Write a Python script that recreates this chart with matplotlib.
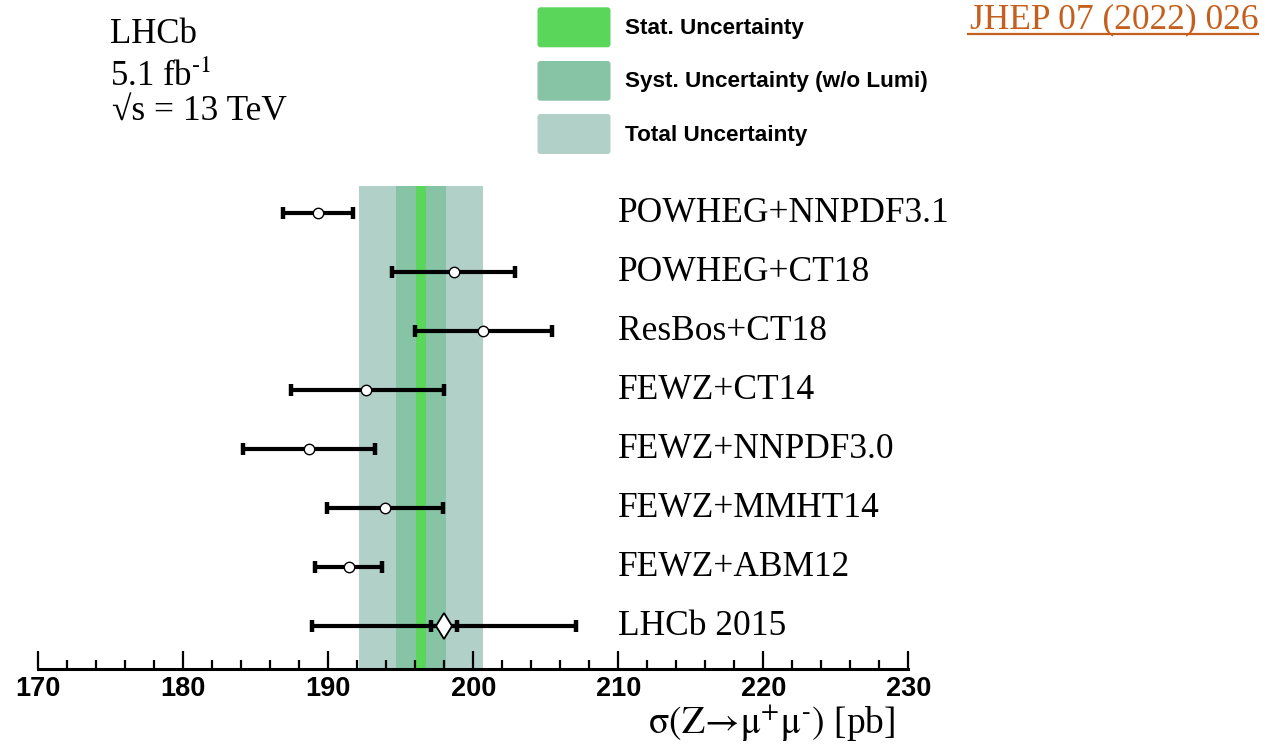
import matplotlib
matplotlib.use("Agg")
import matplotlib.pyplot as plt
from matplotlib.patches import FancyBboxPatch
from matplotlib.lines import Line2D
from matplotlib.transforms import IdentityTransform
from matplotlib.ticker import MultipleLocator

plt.rcParams["mathtext.fontset"] = "stix"
plt.rcParams["mathtext.default"] = "rm"

# ---------------- data ----------------
labels = ["POWHEG+NNPDF3.1", "POWHEG+CT18", "ResBos+CT18", "FEWZ+CT14",
          "FEWZ+NNPDF3.0", "FEWZ+MMHT14", "FEWZ+ABM12"]
central = [189.3, 198.7, 200.7, 192.6, 188.7, 193.9, 191.4]
low = [186.9, 194.4, 196.0, 187.4, 184.1, 189.9, 189.1]
high = [191.7, 202.9, 205.4, 198.0, 193.2, 197.9, 193.7]

lhcb15_label = "LHCb 2015"
lhcb15_central = 198.0
lhcb15_stat = 0.9
lhcb15_total = 9.1

meas_central = 196.4
meas_stat = 0.33
meas_syst = 1.7
meas_total = 4.3

xticks_major = [170, 180, 190, 200, 210, 220, 230]
legend_labels = ["Stat. Uncertainty", "Syst. Uncertainty (w/o Lumi)", "Total Uncertainty"]

c_stat = "#5ad65a"
c_syst = "#87c3a5"
c_total = "#b1d0c7"

SERIF = ["Liberation Serif", "DejaVu Serif"]
SANS = ["Liberation Sans", "DejaVu Sans"]
HY = "\u2010"

W, H = 1268, 747
fig = plt.figure(figsize=(W / 100, H / 100), dpi=100)

def fx(px):
    return px / W

def fy(py):
    return 1 - py / H

ax_left, ax_right = 38.3, 908.3
ax_top, ax_bot = 186.0, 668.7
ax = fig.add_axes([fx(ax_left), fy(ax_bot), (ax_right - ax_left) / W, (ax_bot - ax_top) / H])

row0, drow = 213.3, 59.0
ax.set_ylim((ax_bot - row0) / drow, (ax_top - row0) / drow)
ax.set_xlim(xticks_major[0], xticks_major[-1])

# bands
ax.axvspan(meas_central - meas_total, meas_central + meas_total, color=c_total, lw=0, zorder=1)
ax.axvspan(meas_central - meas_syst, meas_central + meas_syst, color=c_syst, lw=0, zorder=1.1)
ax.axvspan(meas_central - meas_stat, meas_central + meas_stat, color=c_stat, lw=0, zorder=1.2)

eb_kw = dict(fmt="none", ecolor="black", elinewidth=3, capsize=4, capthick=3.2, zorder=3)

ys = list(range(len(labels)))
xerr = [[c - l for c, l in zip(central, low)], [h - c for c, h in zip(central, high)]]
ax.errorbar(central, ys, xerr=xerr, **eb_kw)
ax.plot(central, ys, "o", mfc="white", mec="black", mew=1.0, ms=7.5, zorder=5)

y15 = len(labels)
ax.errorbar([lhcb15_central], [y15], xerr=[[lhcb15_total], [lhcb15_total]], **eb_kw)
ax.errorbar([lhcb15_central], [y15], xerr=[[lhcb15_stat], [lhcb15_stat]], **eb_kw)
ax.plot([lhcb15_central], [y15], "d", mfc="white", mec="black", mew=1.3, ms=13.5, zorder=5)

for i, lab in enumerate(labels + [lhcb15_label]):
    ax.text(210.0, i, lab, fontsize=25.5, family=SERIF, va="center", ha="left", clip_on=False)

# axes styling
for s in ["top", "left", "right"]:
    ax.spines[s].set_visible(False)
ax.spines["bottom"].set_linewidth(2.2)
ax.set_yticks([])
ax.set_xticks(xticks_major)
ax.xaxis.set_minor_locator(MultipleLocator(2))
ax.tick_params(axis="x", which="major", direction="in", length=13, width=1.6, pad=5)
ax.tick_params(axis="x", which="minor", direction="in", length=6.5, width=1.6)
ax.set_xticklabels([str(t) for t in xticks_major], fontsize=19.5, fontweight="bold", family=SANS)
ax.patch.set_alpha(0)

# x label
fig.text(fx(895), fy(734), r"$\sigma(\mathrm{Z}\!\rightarrow\!\mu^{+}\mu^{" + HY + r"})$ [pb]",
         fontsize=27, family=SERIF, ha="right", va="baseline")

# top-left text
fig.text(fx(110), fy(43), "LHCb", fontsize=25, family=SERIF, va="baseline")
fig.text(fx(110), fy(86), "5.1 fb$^{" + HY + "1}$", fontsize=25, family=SERIF, va="baseline")
fig.text(fx(112), fy(120), "√s = 13 TeV", fontsize=25.5, family=SERIF, va="baseline")

# legend
boxes = [(7.3, 47.3), (61.0, 100.7), (114.0, 154.0)]
for (t, b), col, lab in zip(boxes, [c_stat, c_syst, c_total], legend_labels):
    p = FancyBboxPatch((537.5 + 2, H - b + 2), 73 - 4, (b - t) - 4,
                       boxstyle="round,pad=2,rounding_size=3", fc=col, ec="none",
                       transform=IdentityTransform())
    fig.add_artist(p)
    fig.text(fx(625), fy((t + b) / 2 + 1), lab, fontsize=16.2, fontweight="bold",
             family=SANS, va="center", ha="left")

# JHEP link
jc = "#c55f1e"
fig.text(fx(1259), fy(28), "JHEP 07 (2022) 026", fontsize=25.5, family=SERIF, color=jc,
         ha="right", va="baseline")
fig.add_artist(Line2D([968, 1258], [H - 34, H - 34], color=jc, lw=1.6,
                      transform=IdentityTransform()))

fig.savefig("out.png", dpi=100)
